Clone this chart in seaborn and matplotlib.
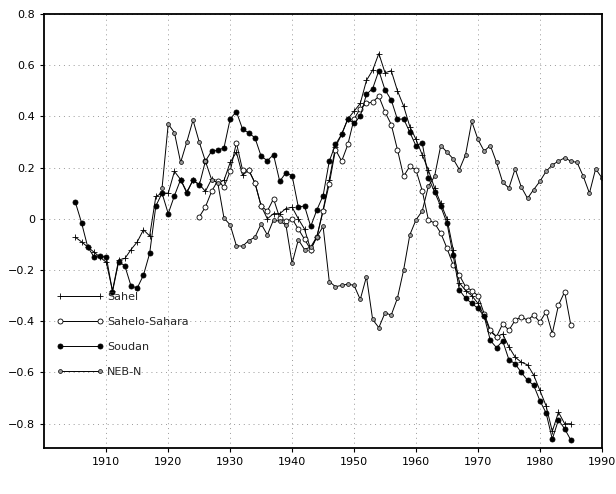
import matplotlib
matplotlib.use("Agg")
import matplotlib.pyplot as plt
from matplotlib.ticker import FuncFormatter
import numpy as np
import pandas as pd
import seaborn as sns

# Rainfall index series
sahel_years = list(range(1905, 1986))
sahel = [
    -0.072, -0.09, -0.11, -0.13, -0.15, -0.17, -0.28, -0.16, -0.155, -0.12,
    -0.09, -0.043, -0.067, 0.087, 0.10, 0.10, 0.185, 0.153, 0.105, 0.15,
    0.135, 0.107, 0.155, 0.14, 0.15, 0.22, 0.26, 0.17, 0.19, 0.14,
    0.05, 0.0, 0.02, 0.02, 0.04, 0.045, 0.0, -0.04, -0.12, -0.07,
    0.035, 0.153, 0.28, 0.33, 0.39, 0.42, 0.45, 0.54, 0.58, 0.645,
    0.57, 0.578, 0.50, 0.44, 0.36, 0.31, 0.25, 0.19, 0.12, 0.06,
    0.0, -0.12, -0.25, -0.28, -0.30, -0.33, -0.38, -0.44, -0.46, -0.45,
    -0.50, -0.54, -0.56, -0.57, -0.61, -0.67, -0.73, -0.83, -0.755, -0.80,
    -0.80,
]

sahelo_sahara_years = list(range(1925, 1986))
sahelo_sahara = [
    0.007, 0.046, 0.107, 0.149, 0.124, 0.185, 0.297, 0.19, 0.19, 0.14,
    0.05, 0.03, 0.078, 0.003, -0.01, 0.0, -0.04, -0.08, -0.12, -0.07,
    0.03, 0.137, 0.27, 0.225, 0.29, 0.39, 0.43, 0.45, 0.456, 0.478,
    0.417, 0.368, 0.27, 0.166, 0.205, 0.19, 0.11, -0.004, -0.017, -0.056,
    -0.115, -0.18, -0.22, -0.265, -0.28, -0.30, -0.37, -0.435, -0.46, -0.41,
    -0.435, -0.396, -0.383, -0.396, -0.376, -0.403, -0.363, -0.448, -0.337, -0.285,
    -0.416,
]

soudan_years = list(range(1905, 1986))
soudan = [
    0.065, -0.015, -0.11, -0.148, -0.145, -0.148, -0.285, -0.167, -0.184, -0.263,
    -0.27, -0.22, -0.135, 0.05, 0.10, 0.02, 0.09, 0.153, 0.10, 0.153,
    0.13, 0.225, 0.264, 0.267, 0.277, 0.39, 0.418, 0.35, 0.335, 0.316,
    0.244, 0.227, 0.25, 0.146, 0.18, 0.168, 0.046, 0.05, -0.03, 0.035,
    0.09, 0.225, 0.29, 0.33, 0.39, 0.373, 0.40, 0.486, 0.508, 0.578,
    0.503, 0.464, 0.388, 0.39, 0.338, 0.284, 0.297, 0.16, 0.105, 0.048,
    -0.017, -0.143, -0.278, -0.31, -0.33, -0.35, -0.38, -0.475, -0.503, -0.477,
    -0.55, -0.566, -0.60, -0.63, -0.65, -0.71, -0.758, -0.86, -0.785, -0.82,
    -0.864,
]

neb_n_years = list(range(1919, 1991))
neb_n = [
    0.12, 0.37, 0.336, 0.22, 0.30, 0.385, 0.30, 0.225, 0.153, 0.14,
    0.003, -0.024, -0.105, -0.107, -0.085, -0.072, -0.02, -0.063, -0.004, -0.01,
    -0.024, -0.174, -0.082, -0.12, -0.11, -0.07, -0.03, -0.245, -0.265, -0.26,
    -0.255, -0.26, -0.315, -0.226, -0.393, -0.425, -0.367, -0.376, -0.31, -0.20,
    -0.063, -0.004, 0.03, 0.127, 0.166, 0.286, 0.26, 0.234, 0.192, 0.25,
    0.38, 0.31, 0.264, 0.286, 0.22, 0.142, 0.12, 0.195, 0.124, 0.08,
    0.114, 0.146, 0.185, 0.21, 0.225, 0.238, 0.225, 0.22, 0.166, 0.10,
    0.195, 0.16,
]

x_ticks = [1910, 1920, 1930, 1940, 1950, 1960, 1970, 1980, 1990]
y_ticks = [-0.8, -0.6, -0.4, -0.2, 0.0, 0.2, 0.4, 0.6, 0.8]

sns.set_style("ticks")
plt.rcParams["font.family"] = ["DejaVu Sans"]

fig = plt.figure(figsize=(6.16, 4.94), dpi=100)
ax = fig.add_axes([0.072, 0.093, 0.905, 0.879])

series = [
    ("Sahel", sahel_years, sahel,
     dict(marker="+", markersize=4, markerfacecolor="black",
          markeredgecolor="black", markeredgewidth=0.6)),
    ("Sahelo-Sahara", sahelo_sahara_years, sahelo_sahara,
     dict(marker="o", markersize=3.6, markerfacecolor="white",
          markeredgecolor="black", markeredgewidth=0.6)),
    ("Soudan", soudan_years, soudan,
     dict(marker="o", markersize=3.6, markerfacecolor="black",
          markeredgecolor="black", markeredgewidth=0.6)),
    ("NEB-N", neb_n_years, neb_n,
     dict(marker="o", markersize=2.8, markerfacecolor="0.6",
          markeredgecolor="black", markeredgewidth=0.5)),
]

for name, yrs, vals, style in series:
    df = pd.DataFrame({"year": yrs, "value": vals})
    sns.lineplot(data=df, x="year", y="value", ax=ax, color="black",
                 linewidth=0.7, label=name, **style)

ax.set_xlim(1900, 1990)
ax.set_ylim(-0.895, 0.8)
ax.set_xticks(x_ticks)
ax.set_yticks(y_ticks)
ax.yaxis.set_major_formatter(
    FuncFormatter(lambda v, _: "0" if abs(v) < 1e-9 else f"{v:.1f}".replace("-", "\u2212")))
ax.set_xlabel("")
ax.set_ylabel("")
ax.tick_params(direction="out", length=3, width=0.8, labelsize=8, colors="black")
ax.grid(True, linestyle=(0, (1, 4)), color="0.6", linewidth=0.7)
for side in ax.spines.values():
    side.set_visible(True)
    side.set_linewidth(1.3)
    side.set_color("black")

ax.legend(loc="lower left", bbox_to_anchor=(0.005, 0.14), frameon=False,
          numpoints=2, handlelength=4.2, handletextpad=0.3,
          labelspacing=1.35, fontsize=8)

fig.savefig("out.png", dpi=100)
